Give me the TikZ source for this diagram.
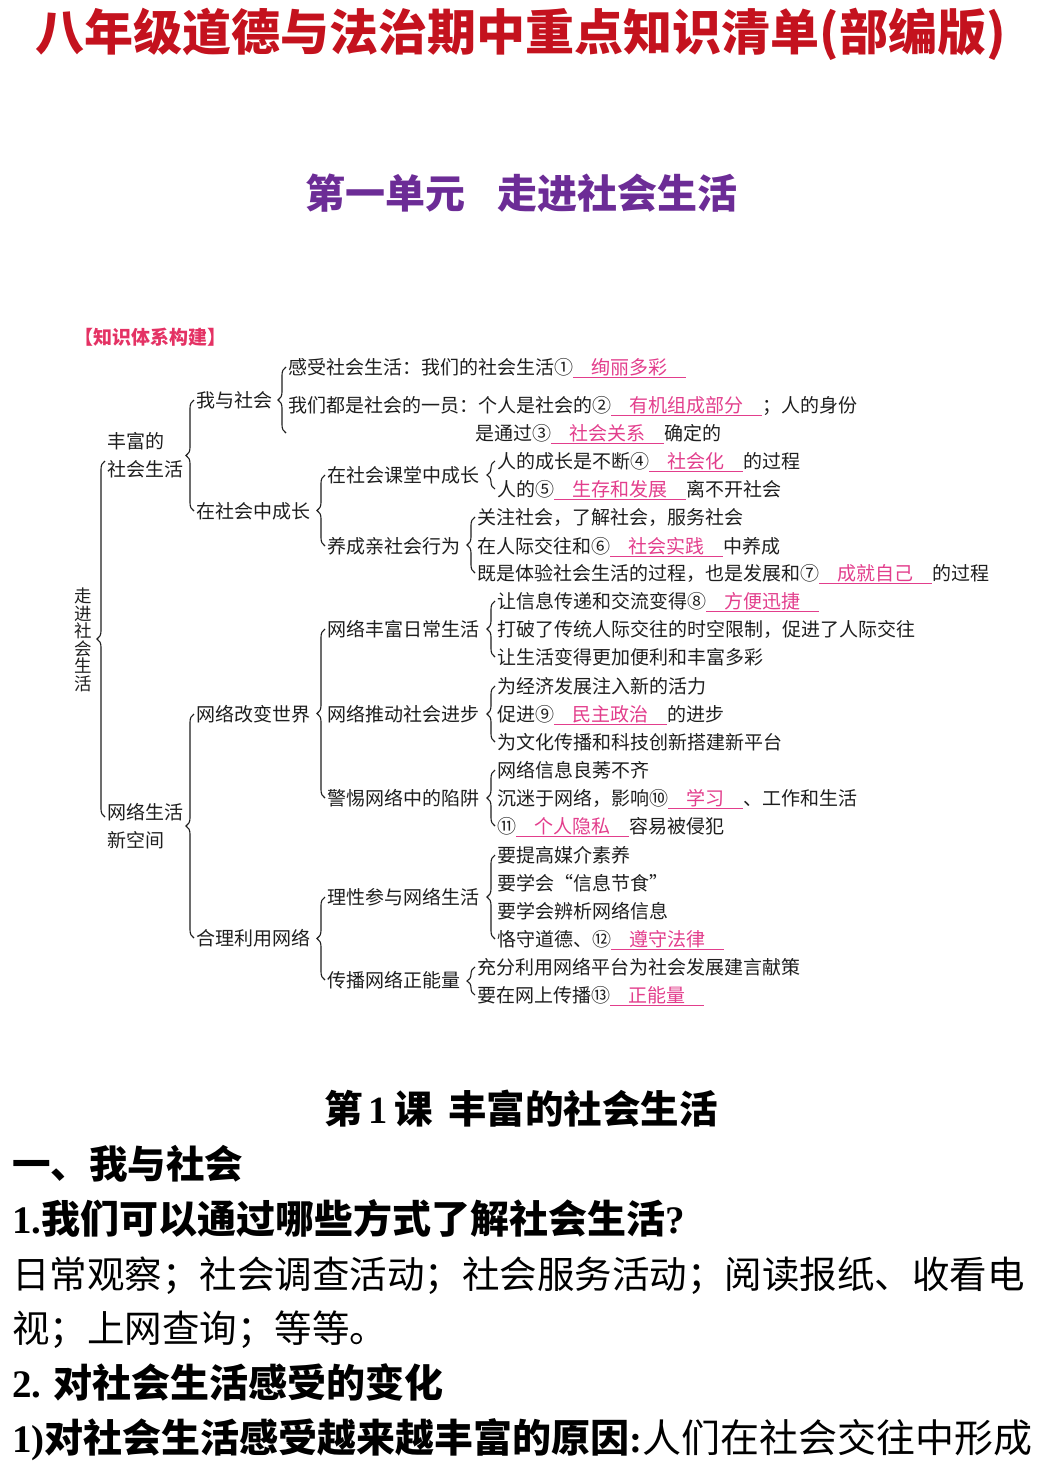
\documentclass[tikz,border=0pt]{standalone}
\usepackage{fontspec}
\setmainfont{Noto Sans CJK SC}
\newfontfamily\tms{Liberation Serif}
\usetikzlibrary{calc, decorations.pathreplacing}
\definecolor{titlered}{RGB}{196,18,30}
\definecolor{unitpurple}{RGB}{108,44,150}
\definecolor{ink}{RGB}{30,30,30}
\definecolor{ans}{RGB}{226,62,140}
\definecolor{tagred}{RGB}{228,50,100}
\newcommand{\blank}[1]{{\color{ans}\setbox0\hbox{\hspace{0.95em}#1\hspace{1em}}\rlap{\rule[-4pt]{\wd0}{1.2pt}}\box0}}

\begin{document}
\begin{tikzpicture}[
  x=1pt, y=-1pt,
  txt/.style={anchor=west, inner sep=0pt, text=ink, text height=16pt, text depth=2pt, font=\fontsize{19}{19}\selectfont},
  vlabel/.style={inner sep=0pt, text=ink, align=center, font=\fontsize{17.5}{17.5}\selectfont},
  brc/.style={decorate, decoration={brace, amplitude=8pt}, draw=ink, line width=1.1pt},
  heading/.style={inner sep=0pt, text height=42pt, text depth=4pt, font=\bfseries\fontsize{49}{49}\selectfont, text=titlered},
  unit/.style={inner sep=0pt, text height=33pt, text depth=3pt, font=\bfseries\fontsize{40}{40}\selectfont, text=unitpurple},
  tag/.style={anchor=west, inner sep=0pt, text height=16pt, text depth=2pt, font=\bfseries\fontsize{19}{19}\selectfont, text=tagred},
  para/.style={anchor=west, inner sep=0pt, text height=33pt, text depth=3pt, font=\fontsize{37.5}{37.5}\selectfont, text=black},
  bpara/.style={para, font=\bfseries\fontsize{39}{39}\selectfont}
]
\useasboundingbox (0,0) rectangle (1042,1474);

\node[heading] (title) at (521,32) {八年级道德与法治期中重点知识清单(部编版)};
\node[unit] (unit) at (521,193) {第一单元\hspace{0.8em}走进社会生活};
\node[tag] (tag) at (74,337) {【知识体系构建】};

\node[vlabel] (root) at (83,640) {走\\进\\社\\会\\生\\活};

\node[txt] (r1a) at (107,441) {丰富的};
\node[txt] (r1b) at (107,469) {社会生活};
\node[txt] (r2a) at (107,812) {网络生活};
\node[txt] (r2b) at (107,840) {新空间};

\node[txt] (s1) at (196,400) {我与社会};
\node[txt] (s2) at (196,511) {在社会中成长};
\node[txt] (s3) at (196,714) {网络改变世界};
\node[txt] (s4) at (196,938) {合理利用网络};

\node[txt] (t1) at (327,475) {在社会课堂中成长};
\node[txt] (t2) at (327,546) {养成亲社会行为};
\node[txt] (t3) at (327,629) {网络丰富日常生活};
\node[txt] (t4) at (327,714) {网络推动社会进步};
\node[txt] (t5) at (327,798) {警惕网络中的陷阱};
\node[txt] (t6) at (327,897) {理性参与网络生活};
\node[txt] (t7) at (327,980) {传播网络正能量};

\node[txt] (l1) at (288,367) {感受社会生活：我们的社会生活①\blank{绚丽多彩}};
\node[txt] (l2) at (288,405) {我们都是社会的一员：个人是社会的②\blank{有机组成部分}；人的身份};
\node[txt] (l3) at (475,433) {是通过③\blank{社会关系}确定的};
\node[txt] (l4) at (497,461) {人的成长是不断④\blank{社会化}的过程};
\node[txt] (l5) at (497,489) {人的⑤\blank{生存和发展}离不开社会};
\node[txt] (l6) at (477,517) {关注社会，了解社会，服务社会};
\node[txt] (l7) at (477,546) {在人际交往和⑥\blank{社会实践}中养成};
\node[txt] (l8) at (477,573) {既是体验社会生活的过程，也是发展和⑦\blank{成就自己}的过程};
\node[txt] (l9) at (497,601) {让信息传递和交流变得⑧\blank{方便迅捷}};
\node[txt] (l10) at (497,629) {打破了传统人际交往的时空限制，促进了人际交往};
\node[txt] (l11) at (497,657) {让生活变得更加便利和丰富多彩};
\node[txt] (l12) at (497,686) {为经济发展注入新的活力};
\node[txt] (l13) at (497,714) {促进⑨\blank{民主政治}的进步};
\node[txt] (l14) at (497,742) {为文化传播和科技创新搭建新平台};
\node[txt] (l15) at (497,770) {网络信息良莠不齐};
\node[txt] (l16) at (497,798) {沉迷于网络，影响⑩\blank{学习}、工作和生活};
\node[txt] (l17) at (497,826) {⑪\blank{个人隐私}容易被侵犯};
\node[txt] (l18) at (497,855) {要提高媒介素养};
\node[txt] (l19) at (497,883) {要学会“信息节食”};
\node[txt] (l20) at (497,911) {要学会辨析网络信息};
\node[txt] (l21) at (497,939) {恪守道德、⑫\blank{遵守法律}};
\node[txt] (l22) at (477,967) {充分利用网络平台为社会发展建言献策};
\node[txt] (l23) at (477,995) {要在网上传播⑬\blank{正能量}};

\coordinate (l2end) at (l2.west |- l3.west);

\draw[brc] ($(r2a.west)+(-2,5)$) -- ($(r1b.west)+(-2,-8)$);
\draw[brc] ($(s2.west)+(-2,0)$) -- ($(s1.west)+(-2,0)$);
\draw[brc] ($(s4.west)+(-2,0)$) -- ($(s3.west)+(-2,0)$);
\draw[brc] ($(l2end)+(-2,0)$) -- ($(l1.west)+(-2,0)$);
\draw[brc] ($(t2.west)+(-2,0)$) -- ($(t1.west)+(-2,0)$);
\draw[brc] ($(t5.west)+(-2,0)$) -- ($(t3.west)+(-2,0)$);
\draw[brc] ($(t7.west)+(-2,0)$) -- ($(t6.west)+(-2,0)$);
\draw[brc] ($(l5.west)+(-2,0)$) -- ($(l4.west)+(-2,0)$);
\draw[brc] ($(l8.west)+(-2,0)$) -- ($(l6.west)+(-2,0)$);
\draw[brc] ($(l11.west)+(-2,0)$) -- ($(l9.west)+(-2,0)$);
\draw[brc] ($(l14.west)+(-2,0)$) -- ($(l12.west)+(-2,0)$);
\draw[brc] ($(l17.west)+(-2,0)$) -- ($(l15.west)+(-2,0)$);
\draw[brc] ($(l21.west)+(-2,0)$) -- ($(l18.west)+(-2,0)$);
\draw[brc] ($(l23.west)+(-2,0)$) -- ($(l22.west)+(-2,0)$);

\node[bpara, anchor=center, font=\bfseries\fontsize{38.5}{38.5}\selectfont] (lesson) at (521,1108) {第{\tms\bfseries\,1\,}课\hspace{0.4em}丰富的社会生活};
\node[bpara, font=\bfseries\fontsize{38.5}{38.5}\selectfont] (sec) at (12,1163) {一、我与社会};
\node[bpara] (q1) at (12,1218) {{\tms\bfseries 1.}我们可以通过哪些方式了解社会生活{\tms\bfseries ?}};
\node[para] (a1) at (12,1273) {日常观察；社会调查活动；社会服务活动；阅读报纸、收看电};
\node[para] (a2) at (12,1327) {视；上网查询；等等。};
\node[bpara] (q2) at (12,1382) {{\tms\bfseries 2.}\hspace{0.3em}对社会生活感受的变化};
\node[para, font=\fontsize{39}{39}\selectfont] (q3) at (12,1437) {{\bfseries{\tms\bfseries 1)}对社会生活感受越来越丰富的原因{\tms\bfseries :}}人们在社会交往中形成};
\end{tikzpicture}
\end{document}
